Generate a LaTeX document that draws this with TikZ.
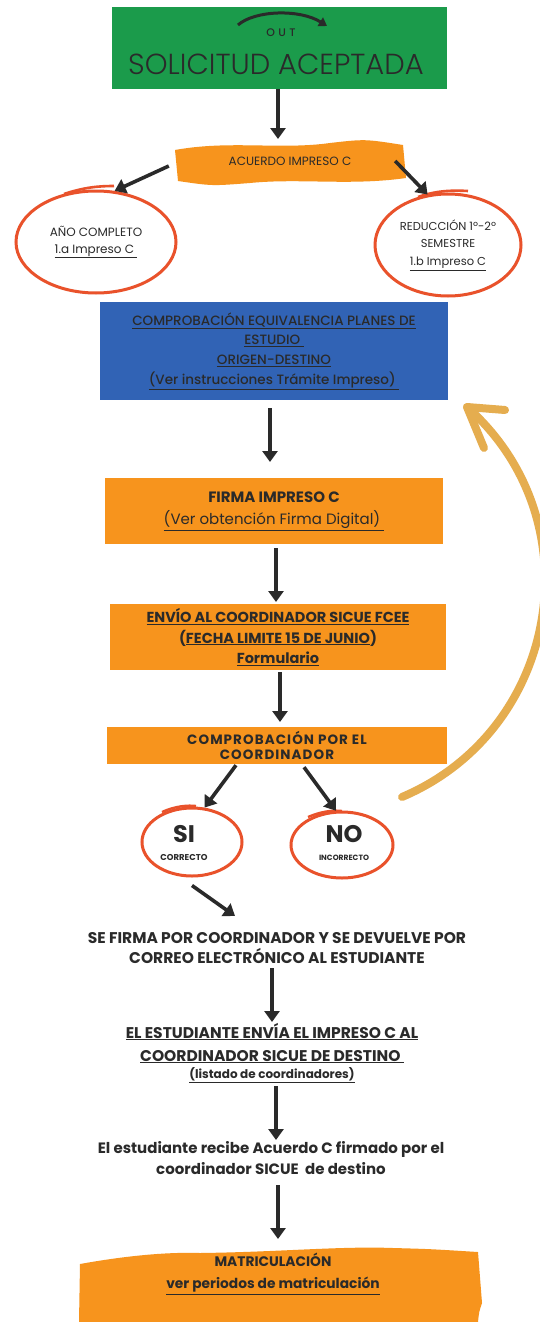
\documentclass[tikz,border=0pt]{standalone}
\usepackage{fontspec}
\setmainfont{Poppins}
\newfontfamily\thinfont{Poppins Light}
\newfontfamily\medfont{Poppins Medium}
\usetikzlibrary{shapes.geometric,arrows.meta,calc}
\definecolor{gbox}{HTML}{1B9B4B}
\definecolor{obox}{HTML}{F7941D}
\definecolor{bbox}{HTML}{3163B5}
\definecolor{ring}{HTML}{E9522B}
\definecolor{yarr}{HTML}{E5AD4F}
\definecolor{ink}{HTML}{2A2A2A}
\begin{document}
\begin{tikzpicture}[x=1pt,y=-1pt,
  arr/.style={draw=ink,line width=3.6pt,-{Triangle[length=11pt,width=15pt]}},
  boxo/.style={fill=obox,inner sep=0pt,align=center,text=ink},
  ringnode/.style={ellipse,draw=ring,line width=3pt,inner sep=0pt,align=center,text=ink},
  plain/.style={inner sep=0pt,align=center,text=ink}]
\useasboundingbox[fill=white] (0,0) rectangle (539,1322);

% title
\node[fill=gbox,minimum width=335pt,minimum height=82pt,inner sep=0pt] (title) at (279.5,48) {};
\node[plain,font=\medfont\fontsize{11}{11}\selectfont\addfontfeature{LetterSpace=30}] (out) at (281,33) {OUT};
\node[plain,font=\thinfont\fontsize{29}{29}\selectfont] (solic) at (276,64) {SOLICITUD ACEPTADA};
\coordinate (ca) at (238,25);
\coordinate (cb) at (327,26);
\draw[ink,line width=3pt,-{Triangle[length=8pt,width=10pt]}] (ca) .. controls (255,10) and (300,9) .. (cb);

% acuerdo (wavy)
\fill[obox] (175,150) .. controls (230,140) and (280,150) .. (330,143) .. controls (365,139) .. (403,145)
  -- (406,178) .. controls (350,186) and (300,178) .. (250,183) .. controls (212,186) .. (178,181) -- cycle;
\node[plain,minimum width=230pt,minimum height=36pt,font=\fontsize{12}{12}\selectfont] (acuerdo) at (290,161) {ACUERDO IMPRESO C};
\draw[arr] (title.south -| 278,0) -- (278,139);

% ellipses
\node[ringnode,minimum width=160pt,minimum height=102pt,font=\fontsize{12}{17}\selectfont] (anio) at (96,242)
  {AÑO COMPLETO\\\underline{1.a Impreso C~}};
\draw[ring,line width=2.6pt] (64,194) .. controls (85,187) and (100,186) .. (114,186);
\node[ringnode,minimum width=146pt,minimum height=102pt,font=\fontsize{11.5}{17.5}\selectfont] (reduc) at (448,245)
  {REDUCCIÓN 1º-2º\\SEMESTRE\\\underline{1.b Impreso C}};
\draw[ring,line width=2.6pt] (418,197) .. controls (435,191) and (450,190) .. (468,191);
\draw[arr] ([xshift=-6pt,yshift=-5pt]acuerdo.west) -- (anio.70);
\draw[arr] ([xshift=-10pt,yshift=0pt]acuerdo.east) -- (reduc.112);

% blue box
\node[fill=bbox,minimum width=348pt,minimum height=98pt,inner sep=0pt,align=center,text=ink,
  font=\medfont\fontsize{13.5}{19.7}\selectfont] (blue) at (274,351)
  {\underline{COMPROBACIÓN EQUIVALENCIA PLANES DE}\\\underline{ESTUDIO~}\\\underline{ORIGEN-DESTINO}\\
   \underline{(Ver instrucciones Trámite Impreso)~}};

% firma
\node[boxo,minimum width=338pt,minimum height=66pt,font=\fontsize{15}{22}\selectfont] (firma) at (274,511)
  {\textbf{FIRMA IMPRESO C}\\\underline{(Ver obtención Firma Digital)~}};
\draw[arr] (270,408) -- (270,462);

% envio
\node[boxo,minimum width=336pt,minimum height=66pt,font=\bfseries\fontsize{14.5}{20.5}\selectfont] (envio) at (278,637)
  {\underline{ENVÍO AL COORDINADOR SICUE FCEE}\\(\underline{FECHA LIMITE 15 DE JUNIO})\\\underline{Formulario}};
\draw[arr] (276,548) -- (276,602);

% comprobacion
\node[boxo,minimum width=340pt,minimum height=37pt,font=\bfseries\fontsize{13.5}{15}\selectfont\addfontfeature{LetterSpace=8}] (comp) at (277,745.5)
  {COMPROBACIÓN POR EL\\COORDINADOR};
\draw[arr] (280,672) -- (280,722);

% SI / NO
\node[ringnode,minimum width=100pt,minimum height=68pt] (si) at (192,842) {};
\node[plain,font=\bfseries\fontsize{24}{24}\selectfont] (sitxt) at (184,834) {SI};
\node[plain,font=\bfseries\fontsize{8.5}{9}\selectfont] (sisub) at (184,857) {CORRECTO};
\node[ringnode,minimum width=102pt,minimum height=66pt] (no) at (342,845) {};
\node[plain,font=\bfseries\fontsize{24}{24}\selectfont] (notxt) at (344,834) {NO};
\node[plain,font=\bfseries\fontsize{7.6}{8}\selectfont] (nosub) at (344,858) {INCORRECTO};
\draw[ring,line width=2.4pt] (162,812) .. controls (175,806) and (188,805) .. (196,806);
\draw[ring,line width=2.4pt] (308,817) .. controls (322,811) and (334,810) .. (342,811);
\draw[arr] ([xshift=-41pt,yshift=-1pt]comp.south) -- (si.70);
\draw[arr] ([xshift=27pt,yshift=-3pt]comp.south) -- (no.100);

% curved yellow arrow
\coordinate (ystart) at (402,797);
\coordinate (ytip) at (467,407);
\draw[yarr,line width=8pt,line cap=round] (ystart) .. controls (560,730) and (595,520) .. (ytip);
\draw[yarr,line width=8pt,line cap=round,line join=round] (505,410) -- (ytip) -- (484,448);

% se firma
\node[plain,font=\bfseries\fontsize{15.5}{20}\selectfont] (sefirma) at (277,948)
  {SE FIRMA POR COORDINADOR Y SE DEVUELVE POR\\CORREO ELECTRÓNICO AL ESTUDIANTE};
\draw[arr] (si.south) ++(0pt,-8pt) coordinate (sia) (sia) -- (235,916);

% estudiante envia
\node[plain,font=\bfseries\fontsize{15.5}{23}\selectfont] (envia) at (272,1043)
  {\underline{EL ESTUDIANTE ENVÍA EL IMPRESO C AL}\\\underline{COORDINADOR SICUE DE DESTINO~}};
\node[plain,font=\bfseries\fontsize{12}{12}\selectfont] (listado) at (272,1075) {\underline{(listado de coordinadores)}};
\draw[arr] (272,968) -- (272,1022);
\draw[arr] (276,1086) -- (276,1140);

% recibe
\node[plain,font=\bfseries\fontsize{15}{21}\selectfont] (recibe) at (271,1158)
  {El estudiante recibe Acuerdo C firmado por el\\coordinador SICUE\ \ de destino};

% matriculacion (wavy)
\fill[obox] (80,1264) .. controls (130,1255) and (170,1252) .. (200,1253) .. controls (280,1252) and (340,1246) .. (393,1248)
  .. controls (430,1249) .. (478,1252) -- (482,1303) .. controls (479,1312) .. (478,1322) -- (79,1322) -- cycle;
\node[plain,font=\bfseries\fontsize{13.8}{22}\selectfont] (matric) at (273,1274)
  {MATRICULACIÓN\\\underline{ver periodos de matriculación}};
\draw[arr] (278,1185) -- (278,1239);
\end{tikzpicture}
\end{document}
